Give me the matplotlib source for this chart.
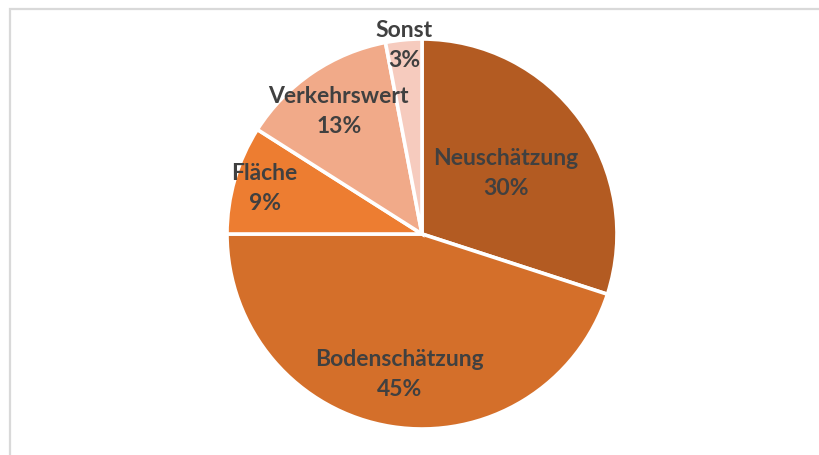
import numpy as np
import matplotlib
matplotlib.use("Agg")
import matplotlib.pyplot as plt
from matplotlib.patches import Rectangle

# data
categories = ["Neuschätzung", "Bodenschätzung", "Fläche", "Verkehrswert", "Sonst"]
shares = [30, 45, 9, 13, 3]
colors = ["#B35B22", "#D46F2A", "#ED7D31", "#F1AA89", "#F6CBBE"]
# radial position of each label as fraction of radius (Excel best fit)
label_dist = [0.53, 0.73, 0.84, 0.76, 0.97]

W, H = 820, 455
fig = plt.figure(figsize=(W / 100, H / 100), dpi=100)
ax = fig.add_axes([0, 0, 1, 1])

cx, cy, r = 422, H - 234, 195
wedges, _ = ax.pie(shares, colors=colors, startangle=90, counterclock=False,
                   center=(cx, cy), radius=r, frame=True,
                   wedgeprops=dict(edgecolor="white", linewidth=2.6))
ax.set_xlim(0, W)
ax.set_ylim(0, H)
ax.set_aspect("equal")
ax.axis("off")

# chart area border (only top/left visible in the crop)
ax.add_patch(Rectangle((10.5, -10), W + 20, H - 8.5 + 10, fill=False,
                       edgecolor="#D9D9D9", linewidth=1.6))

total = sum(shares)
for w, name, val, d in zip(wedges, categories, shares, label_dist):
    ang = np.deg2rad((w.theta1 + w.theta2) / 2)
    x = cx + d * r * np.cos(ang)
    y = cy + d * r * np.sin(ang)
    ax.text(x, y, f"{name}\n{round(100 * val / total)}%", ha="center", va="center",
            fontsize=16.5, fontweight="bold", family="Lato", color="#404040",
            linespacing=1.55)

fig.savefig("out.png", dpi=100, facecolor="white")
